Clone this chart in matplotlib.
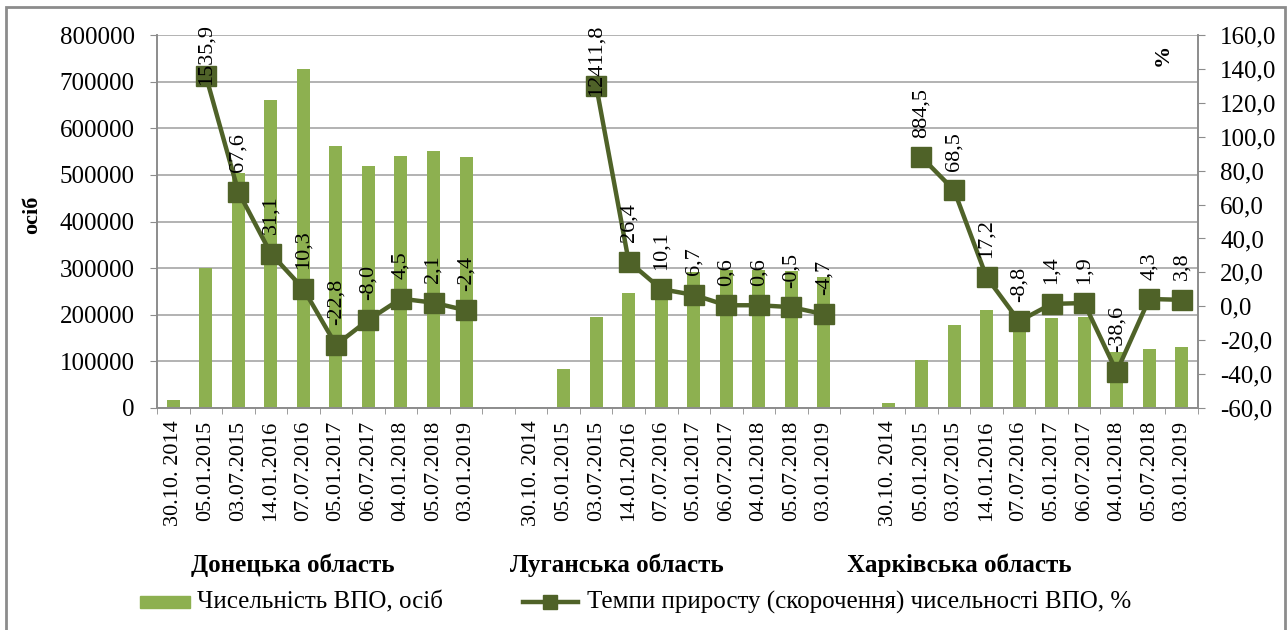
import numpy as np
import matplotlib
matplotlib.use('Agg')
import matplotlib.pyplot as plt
from matplotlib.patches import Rectangle
from matplotlib.lines import Line2D
from matplotlib.ticker import FuncFormatter

plt.rcParams['font.family'] = ['Liberation Serif', 'DejaVu Serif']

# --- data ---
dates = ['30.10. 2014', '05.01.2015', '03.07.2015', '14.01.2016', '07.07.2016',
         '05.01.2017', '06.07.2017', '04.01.2018', '05.07.2018', '03.01.2019']
regions = ['Донецька область', 'Луганська область', 'Харківська область']

donetsk_idp = [18000, 300000, 503000, 660000, 728000, 562000, 518000, 541000, 552000, 538000]
luhansk_idp = [2000, 84000, 196000, 247000, 272000, 292000, 295000, 295000, 293000, 281000]
kharkiv_idp = [11000, 104000, 177000, 210000, 187000, 194000, 196000, 121000, 126000, 130000]

donetsk_rate = [np.nan, 1535.9, 67.6, 31.1, 10.3, -22.8, -8.0, 4.5, 2.1, -2.4]
luhansk_rate = [np.nan, np.nan, 12411.8, 26.4, 10.1, 6.7, 0.6, 0.6, -0.5, -4.7]
kharkiv_rate = [np.nan, 884.5, 68.5, 17.2, -8.8, 1.4, 1.9, -38.6, 4.3, 3.8]

# first growth values are far off the % scale; the original draws them here
offscale_drawn = {1535.9: 136.0, 12411.8: 130.0, 884.5: 88.0}

bar_label = 'Чисельність ВПО, осіб'
line_label = 'Темпи приросту (скорочення) чисельності ВПО, %'

BAR_COLOR = '#8DB050'
LINE_COLOR = '#4F6228'
GRID = '#A6A6A6'
AXIS = '#8C8C8C'
W, H = 1287, 630
FS = 18      # horizontal text
FS_ROT = 16  # rotated text

fig = plt.figure(figsize=(W / 100, H / 100), dpi=100)
ax = fig.add_axes([157 / W, 1 - 408 / H, (1198 - 157) / W, (408 - 35) / H])
ax2 = ax.twinx()

n = len(dates)
starts = [0, n + 1, 2 * (n + 1)]
all_idp = [donetsk_idp, luhansk_idp, kharkiv_idp]
all_rate = [donetsk_rate, luhansk_rate, kharkiv_rate]
total = starts[-1] + n

tick_labels = [''] * total
for s, vals, rates in zip(starts, all_idp, all_rate):
    xs = np.arange(s, s + n)
    ax.bar(xs, vals, width=0.4, color=BAR_COLOR, zorder=2)
    for i, d in enumerate(dates):
        tick_labels[s + i] = d

    drawn = [offscale_drawn.get(r, r) for r in rates]
    ax2.plot(xs, drawn, color=LINE_COLOR, lw=3.2, marker='s', ms=14,
             mfc=LINE_COLOR, mec=LINE_COLOR, zorder=3)
    for x, r, y in zip(xs, rates, drawn):
        if np.isnan(r):
            continue
        txt = f'{r:.1f}'.replace('.', ',')
        off = 14 if len(txt) <= 5 else -7
        ax2.annotate(txt, (x, y), xytext=(0, off), textcoords='offset points',
                     rotation=90, ha='center', va='bottom', fontsize=FS_ROT,
                     annotation_clip=False, zorder=4)

# left axis
ax.set_xlim(-0.5, total - 0.5)
ax.set_ylim(0, 800000)
ax.set_yticks(np.arange(0, 800001, 100000))
ax.yaxis.set_major_formatter(FuncFormatter(lambda v, p: f'{int(v)}'))
ax.grid(axis='y', color=GRID, lw=1.2, zorder=0)
ax.set_axisbelow(True)
ax.set_xticks(np.arange(total))
ax.set_xticklabels(tick_labels, rotation=90, fontsize=FS_ROT)
ax.set_xticks(np.arange(-0.5, total, 1), minor=True)
ax.tick_params(axis='x', which='major', length=0, pad=9)
ax.tick_params(axis='x', which='minor', length=4.5, color=AXIS)
ax.tick_params(axis='y', length=5, color=AXIS, pad=11, labelsize=FS)

# right axis
ax2.set_ylim(-60, 160)
ax2.set_yticks(np.arange(-60, 161, 20))
ax2.yaxis.set_major_formatter(FuncFormatter(lambda v, p: f'{v:.1f}'.replace('.', ',')))
ax2.tick_params(axis='y', length=5, color=AXIS, pad=11, labelsize=FS)

for a in (ax, ax2):
    a.spines['top'].set_visible(False)
    for side in ('left', 'right', 'bottom'):
        a.spines[side].set_color(AXIS)
        a.spines[side].set_linewidth(1.2)

fig.text(32 / W, 1 - 215 / H, 'осіб', rotation=90, fontweight='bold',
         fontsize=FS_ROT, ha='center', va='center')
fig.text(1163 / W, 1 - 55 / H, '%', rotation=90, fontweight='bold',
         fontsize=FS_ROT, ha='center', va='center')

for cx, name in zip([293, 617, 959], regions):
    fig.text(cx / W, 1 - 565 / H, name, fontweight='bold', fontsize=FS,
             ha='center', va='center')

# legend drawn by hand to sit where the original has it
ly = 1 - 602 / H
fig.patches.append(Rectangle((140 / W, ly - 6 / H), 50 / W, 12 / H,
                             transform=fig.transFigure, color=BAR_COLOR))
fig.text(197 / W, ly, bar_label, fontsize=FS, ha='left', va='center')
fig.lines.append(Line2D([523 / W, 578 / W], [ly, ly], lw=3.2, color=LINE_COLOR,
                        transform=fig.transFigure))
fig.lines.append(Line2D([550 / W], [ly], marker='s', ms=10, color=LINE_COLOR,
                        transform=fig.transFigure))
fig.text(587 / W, ly, line_label, fontsize=FS, ha='left', va='center')

# chart-area border
fig.patches.append(Rectangle((6 / W, -0.02), (1285 - 6) / W, 1.02 - 7 / H,
                             transform=fig.transFigure, fill=False,
                             edgecolor=AXIS, lw=2))

fig.savefig('out.png', dpi=100)
